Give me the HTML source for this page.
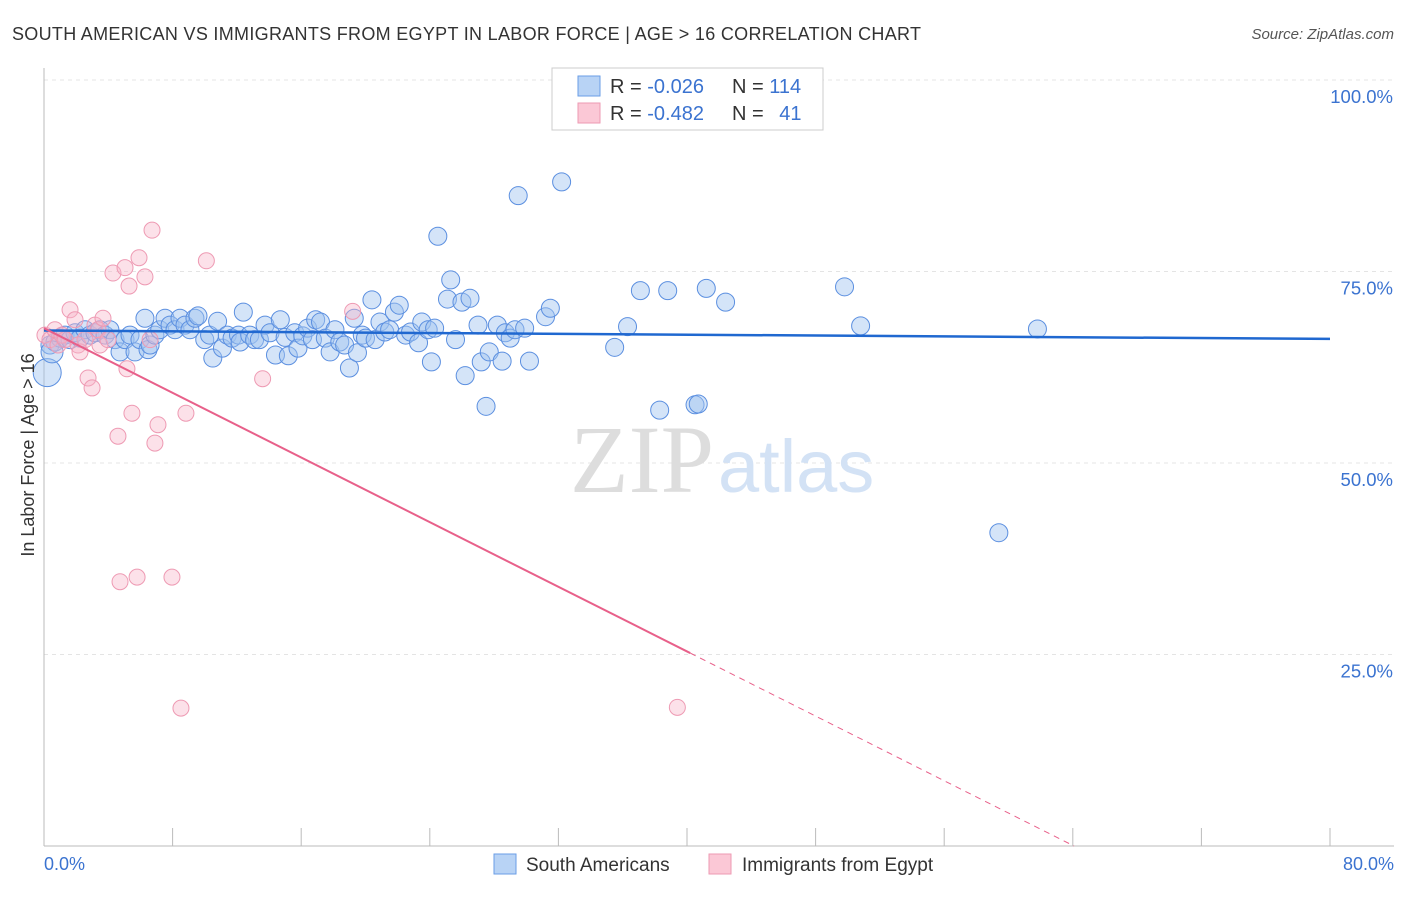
<!DOCTYPE html>
<html><head><meta charset="utf-8"><style>
body{margin:0;background:#fff;font-family:"Liberation Sans",sans-serif}
</style></head><body>
<svg id="c" width="1406" height="892" xmlns="http://www.w3.org/2000/svg">
<text x="12" y="40" font-size="18" fill="#333" textLength="909">SOUTH AMERICAN VS IMMIGRANTS FROM EGYPT IN LABOR FORCE | AGE &gt; 16 CORRELATION CHART</text>
<text x="1394" y="39" font-size="15" fill="#555" font-style="italic" text-anchor="end">Source: ZipAtlas.com</text>
<g id="grid"></g>
<text x="714" y="492" font-size="96" fill="#ddd" text-anchor="end" font-family="Liberation Serif">ZIP</text>
<text x="718" y="492" font-size="74" fill="#d3e2f5">atlas</text>
<g id="pts"></g>
<g id="lines"></g>
<text transform="translate(34,455) rotate(-90)" font-size="18" fill="#333" text-anchor="middle">In Labor Force | Age &gt; 16</text>
<text x="44" y="870" font-size="18" fill="#3b73d0">0.0%</text>
<text x="1394" y="870" font-size="18" fill="#3b73d0" text-anchor="end">80.0%</text>
<g>
<rect x="552" y="68" width="271" height="62" fill="#fff" stroke="#ccc"/>
<rect x="578" y="76" width="22" height="20" fill="#b8d3f5" stroke="#6a9ee6"/>
<rect x="578" y="103" width="22" height="20" fill="#fbc8d6" stroke="#ee9ab3"/>
<text x="610" y="93" font-size="20" fill="#333">R = <tspan fill="#3b73d0">-0.026</tspan></text>
<text x="732" y="93" font-size="20" fill="#333">N = <tspan fill="#3b73d0">114</tspan></text>
<text x="610" y="120" font-size="20" fill="#333">R = <tspan fill="#3b73d0">-0.482</tspan></text>
<text x="732" y="120" font-size="20" fill="#333">N = <tspan fill="#3b73d0" dx="10">41</tspan></text>
</g>
<g>
<rect x="494" y="854" width="22" height="20" fill="#b8d3f5" stroke="#6a9ee6"/>
<text x="526" y="871" font-size="19" fill="#333">South Americans</text>
<rect x="709" y="854" width="22" height="20" fill="#fbc8d6" stroke="#ee9ab3"/>
<text x="742" y="871" font-size="19" fill="#333">Immigrants from Egypt</text>
</g>
</svg>
<script>
const blueX=[0.37,0.68,1.0,1.31,1.62,1.93,2.24,2.55,2.86,3.17,3.48,3.8,4.1,4.42,4.73,5.04,5.35,5.66,5.97,6.28,6.47,6.6,6.9,7.2,7.53,7.84,8.15,8.46,8.77,9.08,9.39,9.58,10.0,10.3,10.5,10.8,11.1,11.4,11.7,12.1,12.2,12.4,12.8,13.1,13.4,13.75,14.06,14.4,14.7,15.0,15.2,15.6,15.8,16.1,16.4,16.7,16.9,17.2,17.5,17.8,18.1,18.4,18.7,19.0,19.3,19.5,19.8,20.0,20.4,20.6,20.9,21.2,21.5,21.8,22.1,22.5,22.8,23.3,23.5,23.9,24.1,24.3,24.5,25.3,25.1,25.6,26.0,26.2,26.5,27.0,27.2,27.5,27.7,28.2,28.5,28.7,29.0,29.3,29.5,29.9,30.2,31.2,31.5,32.2,35.5,36.3,37.1,38.3,38.8,40.5,40.7,41.2,42.4,49.8,50.8,61.8,59.4];
const blueY=[65.4,65.8,66.3,66.7,66.1,67.0,66.3,67.4,66.7,67.0,67.4,66.7,67.4,66.1,64.5,66.1,66.7,64.5,66.1,68.9,64.8,65.4,66.7,67.4,68.9,68.0,67.4,68.9,68.0,67.4,68.9,69.2,66.1,66.7,63.7,68.5,65.0,66.7,66.3,66.7,65.8,69.7,66.7,66.1,66.1,68.0,67.0,64.1,68.7,66.4,64.0,67.0,65.0,66.6,67.6,66.1,68.7,68.4,66.3,64.5,67.4,65.8,65.4,62.4,68.9,64.4,66.7,66.3,71.3,66.1,68.4,67.1,67.4,69.7,70.6,66.7,67.1,65.7,68.4,67.4,63.2,67.6,79.6,73.9,71.4,66.1,71.0,61.4,71.5,68.0,63.2,57.4,64.5,68.0,63.3,67.0,66.3,67.4,84.9,67.6,63.3,69.1,70.2,86.7,65.1,67.8,72.5,56.9,72.5,57.6,57.7,72.8,71.0,73.0,67.9,67.5,40.9];
const pinkX=[0.06,0.37,0.68,0.87,1.12,1.31,1.62,1.93,2.12,2.24,2.55,2.74,2.99,3.17,3.36,3.48,3.67,3.98,4.29,4.6,4.73,5.04,5.16,5.29,5.47,5.79,5.91,6.28,6.6,6.72,6.9,7.09,7.96,8.52,8.83,10.1,13.6,19.2,39.4];
const pinkY=[66.7,66.1,67.4,65.4,66.7,66.1,70.0,68.7,65.4,64.5,66.1,61.1,59.8,68.0,67.4,65.4,68.9,66.1,74.8,53.5,34.5,75.5,62.3,73.1,56.5,35.1,76.8,74.3,66.1,80.4,52.6,55.0,35.1,18.0,56.5,76.4,61.0,69.8,18.1];
const yTicks=[100,75,50,25];
const blueTrend=[67.3,66.2];
const pinkTrend=[67.6,-1.055];
const X=v=>44+v/80*1286, Y=v=>846-v/100*766;
const NS='http://www.w3.org/2000/svg';
function mk(t,a,p){const e=document.createElementNS(NS,t);for(const k in a)e.setAttribute(k,a[k]);p.appendChild(e);return e;}
const grid=document.getElementById('grid');
yTicks.forEach(t=>{
 const l=mk('line',{x1:44,x2:1394,y1:Y(t),y2:Y(t),stroke:'#e4e4e4','stroke-dasharray':'4,4'},grid);
 
 
 const tx=mk('text',{x:1393,y:Y(t)+23,'font-size':18.5,fill:'#3b73d0','text-anchor':'end'},grid);
 tx.textContent=t.toFixed(1)+'%';
 
 
});
mk('line',{x1:44,x2:44,y1:68,y2:846,stroke:'#bbb'},grid);
mk('line',{x1:44,x2:1394,y1:846,y2:846,stroke:'#bbb'},grid);
for(let i=0;i<=10;i++){const tk=mk('line',{x1:X(i*8),x2:X(i*8),y1:828,y2:846,stroke:'#bbb'},grid);
 
 }
const pts=document.getElementById('pts');
blueX.forEach((x,i)=>{const c=mk('circle',{cx:X(x),cy:Y(blueY[i]),r:9,fill:'rgba(160,195,240,0.45)',stroke:'#5b8fe0','stroke-width':1},pts);
 
 });
[[0.2,61.8,14],[0.5,64.5,11]].forEach(p=>{const c=mk('circle',{cx:X(p[0]),cy:Y(p[1]),r:p[2],fill:'rgba(160,195,240,0.45)',stroke:'#5b8fe0'},pts);
 
 });
pinkX.forEach((x,i)=>{const c=mk('circle',{cx:X(x),cy:Y(pinkY[i]),r:8,fill:'rgba(248,180,200,0.4)',stroke:'#ee9ab3','stroke-width':1},pts);
 
 });
const ln=document.getElementById('lines');
const b=mk('line',{x1:X(0),y1:Y(blueTrend[0]),x2:X(80),y2:Y(blueTrend[1]),stroke:'#2068d0','stroke-width':2.5},ln);


const pf=x=>pinkTrend[0]+pinkTrend[1]*x;
const p1=mk('line',{x1:X(0),y1:Y(pf(0)),x2:X(40.2),y2:Y(pf(40.2)),stroke:'#e8608a','stroke-width':2},ln);


const x0=-pinkTrend[0]/pinkTrend[1];
const p2=mk('line',{x1:X(40.2),y1:Y(pf(40.2)),x2:X(x0),y2:Y(0),stroke:'#e8608a','stroke-width':1,'stroke-dasharray':'6,5'},ln);


</script>
</body></html>
